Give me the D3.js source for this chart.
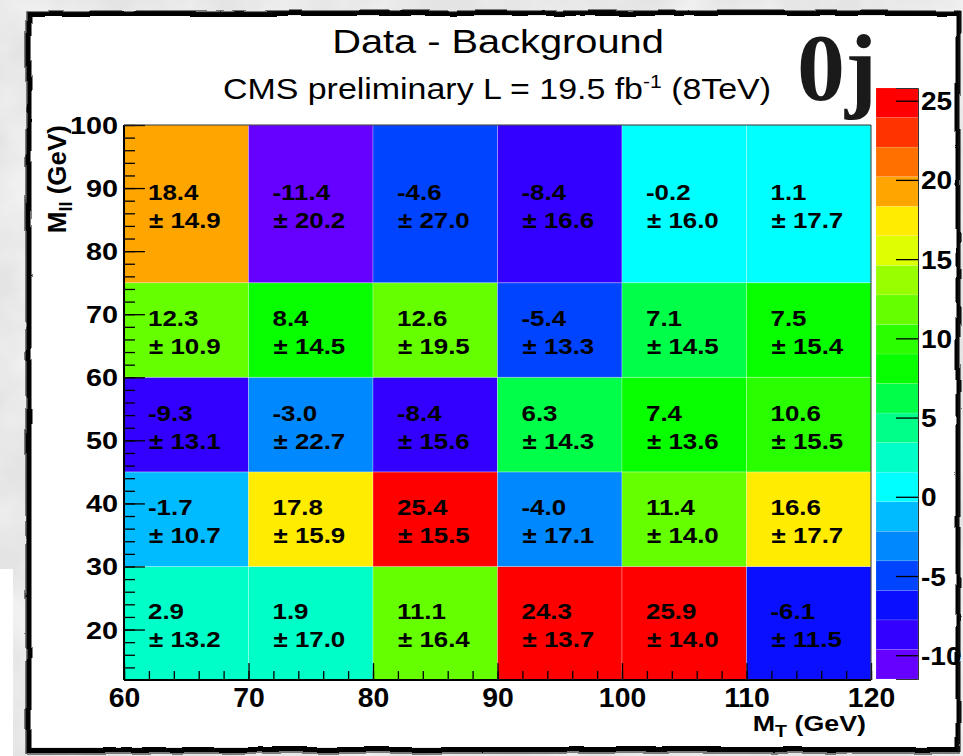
<!DOCTYPE html>
<html>
<head>
<meta charset="utf-8">
<script src="https://cdn.jsdelivr.net/npm/d3@7"></script>
<style>
  html, body { margin: 0; padding: 0; background: #e9e9e9; overflow: hidden; }
  svg { display: block; }
  text { font-family: "Liberation Sans", Arial, Helvetica, sans-serif; fill: #000; }
</style>
</head>
<body>
<svg id="chart" width="963" height="756"></svg>
<script>
// ---- data -------------------------------------------------------------
const mtEdges  = [60, 70, 80, 90, 100, 110, 120];   // M_T bin edges (GeV)
const mllEdges = [12, 30, 45, 60, 75, 100];         // M_ll bin edges (GeV)

// Data - background excess per bin, rows ordered from low to high M_ll
const excess = [
  [  2.9,   1.9,  11.1,  24.3,  25.9,  -6.1],
  [ -1.7,  17.8,  25.4,  -4.0,  11.4,  16.6],
  [ -9.3,  -3.0,  -8.4,   6.3,   7.4,  10.6],
  [ 12.3,   8.4,  12.6,  -5.4,   7.1,   7.5],
  [ 18.4, -11.4,  -4.6,  -8.4,  -0.2,   1.1]
];
const excessErr = [
  [13.2, 17.0, 16.4, 13.7, 14.0, 11.5],
  [10.7, 15.9, 15.5, 17.1, 14.0, 17.7],
  [13.1, 22.7, 15.6, 14.3, 13.6, 15.5],
  [10.9, 14.5, 19.5, 13.3, 14.5, 15.4],
  [14.9, 20.2, 27.0, 16.6, 16.0, 17.7]
];

const xMajorTicks = [60, 70, 80, 90, 100, 110, 120];
const yMajorTicks = [20, 30, 40, 50, 60, 70, 80, 90, 100];
const zTicks      = [-10, -5, 0, 5, 10, 15, 20, 25];
const zRange      = [-11.5, 25.8];

// 20-level rainbow palette, lowest level first
const paletteColors = [
  "#6600ff", "#3300ff", "#0a10ff", "#0044ff", "#0088ff",
  "#00bbff", "#00ffff", "#00ffc8", "#00ff88", "#00ff48",
  "#08ff00", "#2aff00", "#66ff00", "#99ff00", "#ddff00",
  "#ffec00", "#ffa500", "#ff7000", "#ff3300", "#ff0000"
];

// ---- layout -----------------------------------------------------------
const svg = d3.select("#chart");
const P = { left: 124, right: 871, top: 125, bottom: 680 };
const pal = { left: 876, right: 918, top: 88, bottom: 679 };

const x = d3.scaleLinear().domain([60, 120]).range([P.left, P.right]);
const y = d3.scaleLinear().domain([12, 100]).range([P.bottom, P.top]);
const color = d3.scaleQuantize().domain(zRange).range(paletteColors);
const z = d3.scaleLinear().domain(zRange).range([pal.bottom, pal.top]);

// ---- paper background and sketched frame ------------------------------
const defs = svg.append("defs");
const paper = defs.append("filter").attr("id", "paper")
  .attr("x", 0).attr("y", 0).attr("width", "100%").attr("height", "100%");
paper.append("feTurbulence").attr("type", "fractalNoise")
  .attr("baseFrequency", "0.012").attr("numOctaves", 4).attr("seed", 7);
paper.append("feColorMatrix").attr("type", "matrix")
  .attr("values", "0 0 0 0 1  0 0 0 0 1  0 0 0 0 1  1.6 0 0 0 -0.62");

const rough = defs.append("filter").attr("id", "rough")
  .attr("x", "-2%").attr("y", "-2%").attr("width", "104%").attr("height", "104%");
rough.append("feTurbulence").attr("type", "fractalNoise")
  .attr("baseFrequency", "0.03").attr("numOctaves", 2).attr("seed", 3).attr("result", "n");
rough.append("feDisplacementMap").attr("in", "SourceGraphic").attr("in2", "n")
  .attr("scale", 4).attr("xChannelSelector", "R").attr("yChannelSelector", "G");

svg.append("rect").attr("width", 963).attr("height", 756).attr("fill", "#e4e4e4");
svg.append("rect").attr("width", 963).attr("height", 756).attr("filter", "url(#paper)").attr("opacity", 0.8);
svg.append("rect").attr("x", 0).attr("y", 569).attr("width", 13).attr("height", 187).attr("fill", "#ffffff");

svg.append("rect").attr("x", 31).attr("y", 16).attr("width", 926).attr("height", 731).attr("fill", "#ffffff");
const frame = svg.append("g").attr("filter", "url(#rough)");
frame.append("rect").attr("x", 29).attr("y", 13.5).attr("width", 929).attr("height", 736)
  .attr("fill", "none").attr("stroke", "#000").attr("stroke-width", 5);
frame.append("rect").attr("x", 26).attr("y", 11).attr("width", 933).attr("height", 742)
  .attr("fill", "none").attr("stroke", "#111").attr("stroke-width", 1.5).attr("opacity", 0.7);

// ---- titles -----------------------------------------------------------
svg.append("text")
  .attr("transform", "translate(498,53) scale(1.17,1)")
  .attr("text-anchor", "middle").style("font-size", "34px")
  .text("Data - Background");

const sub = svg.append("text")
  .attr("transform", "translate(497,99) scale(1.17,1)")
  .attr("text-anchor", "middle").style("font-size", "29px");
sub.append("tspan").text("CMS preliminary L = 19.5 fb");
sub.append("tspan").attr("dy", -11).style("font-size", "18px").text("-1");
sub.append("tspan").attr("dy", 11).text(" (8TeV)");

svg.append("text")
  .attr("x", 797).attr("y", 100)
  .style("font-family", "'Liberation Serif', 'Times New Roman', serif")
  .style("font-weight", "bold").style("font-size", "96px").style("fill", "#1a1a1a")
  .text("0j");

// ---- cells ------------------------------------------------------------
const cells = [];
excess.forEach((row, j) => row.forEach((v, i) => cells.push({
  x0: mtEdges[i], x1: mtEdges[i + 1], y0: mllEdges[j], y1: mllEdges[j + 1],
  v, e: excessErr[j][i]
})));

const gCells = svg.append("g");
gCells.selectAll("rect").data(cells).join("rect")
  .attr("x", d => x(d.x0)).attr("y", d => y(d.y1))
  .attr("width", d => x(d.x1) - x(d.x0)).attr("height", d => y(d.y0) - y(d.y1))
  .attr("fill", d => color(d.v))
  .attr("stroke", "rgba(255,255,255,0.28)").attr("stroke-width", 1);

const gLabels = svg.append("g").style("font-weight", "bold").style("font-size", "22.5px");
cells.forEach(d => {
  const cx = x(d.x0), cy = (y(d.y0) + y(d.y1)) / 2;
  gLabels.append("text")
    .attr("transform", `translate(${cx + 24},${cy - 4}) scale(1.15,1)`)
    .text(d.v.toFixed(1));
  gLabels.append("text")
    .attr("transform", `translate(${cx + 25},${cy + 24}) scale(1.15,1)`)
    .text("\u00b1 " + d.e.toFixed(1));
});

// ---- axes -------------------------------------------------------------
const yMinor = d3.range(14, 100.1, 2);
const xMinor = d3.range(60, 120.1, 2);

const yAxisMinor = svg.append("g").attr("transform", `translate(${P.left},0)`)
  .call(d3.axisLeft(y).tickValues(yMinor).tickSize(-11).tickFormat(""));
const yAxis = svg.append("g").attr("transform", `translate(${P.left},0)`)
  .call(d3.axisLeft(y).tickValues(yMajorTicks).tickSize(-21).tickPadding(6)
    .tickFormat(d => String(d)));
const xAxisMinor = svg.append("g").attr("transform", `translate(0,${P.bottom})`)
  .call(d3.axisBottom(x).tickValues(xMinor).tickSize(-9).tickFormat(""));
const xAxis = svg.append("g").attr("transform", `translate(0,${P.bottom})`)
  .call(d3.axisBottom(x).tickValues(xMajorTicks).tickSize(-17).tickFormat(d => String(d)));

[yAxisMinor, yAxis, xAxisMinor, xAxis].forEach(g => {
  g.select(".domain").remove();
  g.selectAll(".tick line").attr("stroke", "#000").attr("stroke-width", 1.3);
});
yAxis.selectAll(".tick text")
  .attr("x", null).attr("dy", null)
  .attr("transform", "translate(-6,8.5) scale(1.2,1)")
  .attr("text-anchor", "end")
  .style("font-family", "'Liberation Sans', Arial, sans-serif")
  .style("font-size", "24px").style("font-weight", "bold").attr("fill", "#000");
xAxis.selectAll(".tick text")
  .attr("y", null).attr("dy", null)
  .attr("transform", "translate(0,27) scale(1.05,1)")
  .attr("text-anchor", "middle")
  .style("font-family", "'Liberation Sans', Arial, sans-serif")
  .style("font-size", "27px").style("font-weight", "bold").attr("fill", "#000");

// plot frame
svg.append("line").attr("x1", P.left).attr("x2", P.left).attr("y1", P.top).attr("y2", P.bottom)
  .attr("stroke", "#000").attr("stroke-width", 2);
svg.append("line").attr("x1", P.left).attr("x2", P.right).attr("y1", P.bottom).attr("y2", P.bottom)
  .attr("stroke", "#000").attr("stroke-width", 2);
svg.append("line").attr("x1", P.left).attr("x2", P.right).attr("y1", P.top).attr("y2", P.top)
  .attr("stroke", "#333").attr("stroke-width", 1);
svg.append("line").attr("x1", P.right).attr("x2", P.right).attr("y1", P.top).attr("y2", P.bottom)
  .attr("stroke", "#333").attr("stroke-width", 1);

// axis titles
const xt = svg.append("text")
  .attr("transform", "translate(866,731) scale(1.22,1)")
  .attr("text-anchor", "end").style("font-weight", "bold").style("font-size", "22px");
xt.append("tspan").text("M");
xt.append("tspan").attr("dy", 6).style("font-size", "16px").text("T");
xt.append("tspan").attr("dy", -6).text(" (GeV)");

const yt = svg.append("text")
  .attr("transform", "translate(66,125) rotate(-90)")
  .attr("text-anchor", "end").style("font-weight", "bold").style("font-size", "26px");
yt.append("tspan").text("M");
yt.append("tspan").attr("dy", 6).style("font-size", "18px").text("ll");
yt.append("tspan").attr("dy", -6).text(" (GeV)");

// ---- colour palette ---------------------------------------------------
const edges = [zRange[0], ...color.thresholds(), zRange[1]];
svg.append("g").selectAll("rect").data(paletteColors).join("rect")
  .attr("x", pal.left).attr("width", pal.right - pal.left)
  .attr("y", (c, i) => z(edges[i + 1]))
  .attr("height", (c, i) => z(edges[i]) - z(edges[i + 1]))
  .attr("fill", c => c)
  .attr("stroke", "rgba(255,255,255,0.2)").attr("stroke-width", 0.6);

const zAxis = svg.append("g").attr("transform", `translate(${pal.right},0)`)
  .call(d3.axisRight(z).tickValues(zTicks).tickSize(-22).tickFormat(d => String(d)));
zAxis.select(".domain").attr("stroke", "#333").attr("stroke-width", 1);
zAxis.selectAll(".tick line").attr("stroke", "#000").attr("stroke-width", 1.3);
zAxis.selectAll(".tick text")
  .attr("x", null).attr("dy", null)
  .attr("transform", "translate(3,9) scale(1.12,1)")
  .attr("text-anchor", "start")
  .style("font-family", "'Liberation Sans', Arial, sans-serif")
  .style("font-size", "25px").style("font-weight", "bold").attr("fill", "#000");
</script>
</body>
</html>
